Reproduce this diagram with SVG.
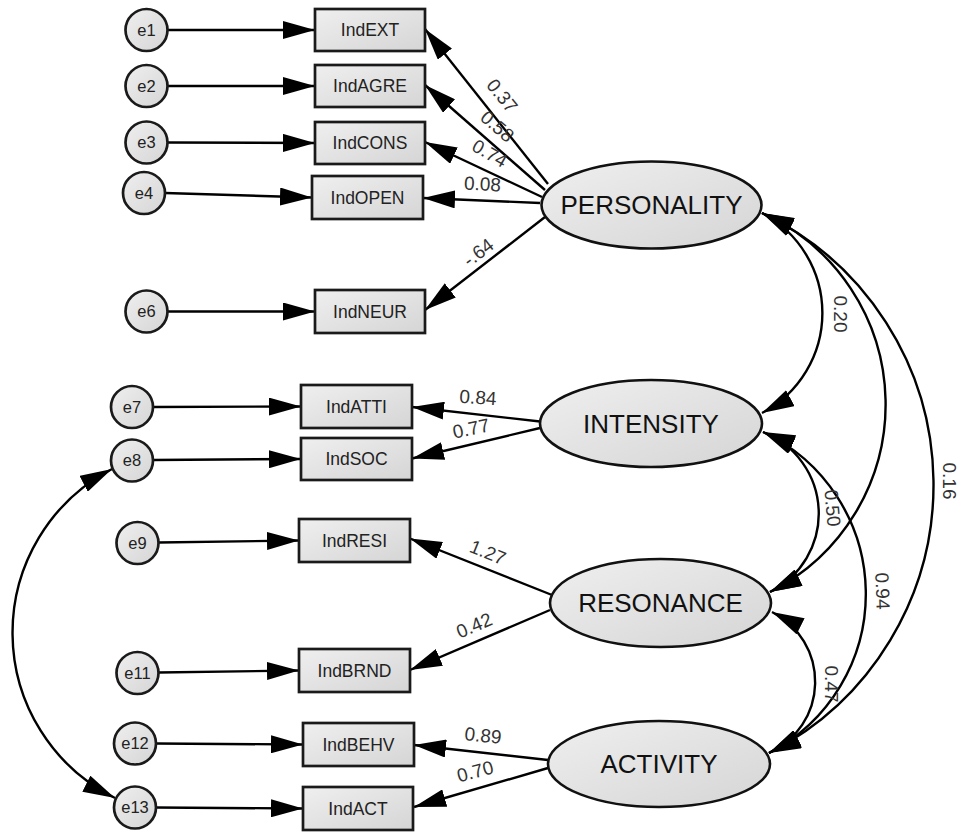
<svg xmlns="http://www.w3.org/2000/svg" width="961" height="833" viewBox="0 0 961 833">
<defs>
<linearGradient id="gf" x1="0" y1="0" x2="1" y2="1">
<stop offset="0" stop-color="#efefef"/>
<stop offset="1" stop-color="#d5d5d5"/>
</linearGradient>
<marker id="ah" markerUnits="userSpaceOnUse" viewBox="0 0 32 18" markerWidth="32" markerHeight="18" refX="32" refY="9" orient="auto-start-reverse">
<path d="M0,0 L32,9 L0,18 Z" fill="#000"/>
</marker>
<style>
.box{fill:url(#gf);stroke:#1a1a1a;stroke-width:2.7}
.err{fill:url(#gf);stroke:#1a1a1a;stroke-width:2.7}
.lat{fill:url(#gf);stroke:#111;stroke-width:2.6}
.t{font-family:"Liberation Sans",Arial,sans-serif;fill:#222;text-anchor:middle}
.bt{font-size:17.5px}
.et{font-size:16.5px}
.lt{font-size:26px;fill:#111}
.pl{font-family:"Liberation Sans",Arial,sans-serif;font-size:19px;fill:#333;text-anchor:middle}
.c{fill:none;stroke:#000;stroke-width:2.4;marker-end:url(#ah)}
.d{fill:none;stroke:#000;stroke-width:2.4;marker-start:url(#ah);marker-end:url(#ah)}
</style>
</defs>
<rect width="961" height="833" fill="#fff"/>

<g id="connectors">
<path class="c" d="M167.5,30 L315,30"/>
<path class="c" d="M167.5,86 L315,86"/>
<path class="c" d="M167.5,142.5 L315,143"/>
<path class="c" d="M165,193 L312,197.5"/>
<path class="c" d="M167.5,311.5 L315,311.5"/>
<path class="c" d="M153,407 L301,406.5"/>
<path class="c" d="M153,460 L301,459"/>
<path class="c" d="M158.5,542.5 L299,540.5"/>
<path class="c" d="M158.5,672.5 L299,670.5"/>
<path class="c" d="M156,743.5 L303,744.5"/>
<path class="c" d="M156,807.5 L303,808.5"/>

<path class="c" d="M548,184 L425,29"/>
<path class="c" d="M545,190 L425,85"/>
<path class="c" d="M542,197 L425,142"/>
<path class="c" d="M540,203 L423,198"/>
<path class="c" d="M545,217 L425,310"/>
<path class="c" d="M540,421.5 L412,407"/>
<path class="c" d="M540,428 L412,458.5"/>
<path class="c" d="M552,595 L410,538.5"/>
<path class="c" d="M550,610 L410,670"/>
<path class="c" d="M548,760 L414,745"/>
<path class="c" d="M548,768 L414,807"/>

<path class="d" d="M762,213 A113,113 0 0 1 762,413"/>
<path class="d" d="M762,213 A210,210 0 0 1 770,592"/>
<path class="d" d="M762,213 A301,301 0 0 1 769,753"/>
<path class="d" d="M763,432 A87.5,87.5 0 0 1 770,592"/>
<path class="d" d="M763,432 A179,179 0 0 1 769,753"/>
<path class="d" d="M772,612 A78,78 0 0 1 769,753"/>
<path class="d" d="M112,469 A184.5,184.5 0 0 0 115,798"/>

<text class="pl" transform="translate(502.5,95.5) rotate(51)" y="7">0.37</text>
<text class="pl" transform="translate(497.5,126) rotate(41)" y="7">0.58</text>
<text class="pl" transform="translate(490,153) rotate(30)" y="7">0.74</text>
<text class="pl" transform="translate(482.5,183.5) rotate(3)" y="7">0.08</text>
<text class="pl" transform="translate(478,252) rotate(-37)" y="7">-.64</text>
<text class="pl" transform="translate(478,397) rotate(4)" y="7">0.84</text>
<text class="pl" transform="translate(471,428) rotate(-12)" y="7">0.77</text>
<text class="pl" transform="translate(488,552) rotate(22)" y="7">1.27</text>
<text class="pl" transform="translate(474,625) rotate(-23)" y="7">0.42</text>
<text class="pl" transform="translate(483,735) rotate(6)" y="7">0.89</text>
<text class="pl" transform="translate(475,771) rotate(-15)" y="7">0.70</text>
<text class="pl" transform="translate(840.5,314) rotate(90)" y="7">0.20</text>
<text class="pl" transform="translate(833,508) rotate(85)" y="7">0.50</text>
<text class="pl" transform="translate(883,591) rotate(88)" y="7">0.94</text>
<text class="pl" transform="translate(950,481) rotate(90)" y="7">0.16</text>
<text class="pl" transform="translate(832,684) rotate(90)" y="7">0.47</text>
</g>

<g id="e1"><circle class="err" cx="146.5" cy="30" r="21"/><text class="t et" x="146.5" y="35.9">e1</text></g>
<g id="e2"><circle class="err" cx="146.5" cy="86" r="21"/><text class="t et" x="146.5" y="91.9">e2</text></g>
<g id="e3"><circle class="err" cx="146.5" cy="142.5" r="21"/><text class="t et" x="146.5" y="148.4">e3</text></g>
<g id="e4"><circle class="err" cx="144" cy="193" r="21"/><text class="t et" x="144" y="198.9">e4</text></g>
<g id="e6"><circle class="err" cx="146.5" cy="311.5" r="21"/><text class="t et" x="146.5" y="317.4">e6</text></g>
<g id="e7"><circle class="err" cx="132" cy="407" r="21"/><text class="t et" x="132" y="412.9">e7</text></g>
<g id="e8"><circle class="err" cx="132" cy="460.5" r="21"/><text class="t et" x="132" y="466.4">e8</text></g>
<g id="e9"><circle class="err" cx="137.5" cy="543" r="21"/><text class="t et" x="137.5" y="548.9">e9</text></g>
<g id="e11"><circle class="err" cx="137.5" cy="673" r="21"/><text class="t et" x="137.5" y="678.9">e11</text></g>
<g id="e12"><circle class="err" cx="135" cy="743.5" r="21"/><text class="t et" x="135" y="749.4">e12</text></g>
<g id="e13"><circle class="err" cx="135" cy="807.5" r="21"/><text class="t et" x="135" y="813.4">e13</text></g>

<g id="IndEXT"><rect class="box" x="315" y="9" width="110" height="42"/><text class="t bt" x="370" y="36.2">IndEXT</text></g>
<g id="IndAGRE"><rect class="box" x="315" y="65" width="110" height="42"/><text class="t bt" x="370" y="92.2">IndAGRE</text></g>
<g id="IndCONS"><rect class="box" x="315" y="122" width="110" height="42"/><text class="t bt" x="370" y="149.2">IndCONS</text></g>
<g id="IndOPEN"><rect class="box" x="312" y="176" width="111" height="43"/><text class="t bt" x="367.5" y="203.7">IndOPEN</text></g>
<g id="IndNEUR"><rect class="box" x="315" y="290" width="110" height="43"/><text class="t bt" x="370" y="317.7">IndNEUR</text></g>
<g id="IndATTI"><rect class="box" x="301" y="385" width="111" height="43"/><text class="t bt" x="356.5" y="412.7">IndATTI</text></g>
<g id="IndSOC"><rect class="box" x="301" y="438" width="111" height="42"/><text class="t bt" x="356.5" y="465.2">IndSOC</text></g>
<g id="IndRESI"><rect class="box" x="299" y="519" width="111" height="43"/><text class="t bt" x="354.5" y="546.7">IndRESI</text></g>
<g id="IndBRND"><rect class="box" x="299" y="649" width="111" height="43"/><text class="t bt" x="354.5" y="676.7">IndBRND</text></g>
<g id="IndBEHV"><rect class="box" x="303" y="723" width="111" height="43"/><text class="t bt" x="358.5" y="750.7">IndBEHV</text></g>
<g id="IndACT"><rect class="box" x="303" y="787" width="110" height="43"/><text class="t bt" x="358" y="814.7">IndACT</text></g>

<g id="PERSONALITY"><ellipse class="lat" cx="651.5" cy="205" rx="110" ry="43.5"/><text class="t lt" x="651.5" y="214.3">PERSONALITY</text></g>
<g id="INTENSITY"><ellipse class="lat" cx="651" cy="423.5" rx="111" ry="43.5"/><text class="t lt" x="651" y="432.8">INTENSITY</text></g>
<g id="RESONANCE"><ellipse class="lat" cx="660.5" cy="603" rx="110.5" ry="44"/><text class="t lt" x="660.5" y="612.3">RESONANCE</text></g>
<g id="ACTIVITY"><ellipse class="lat" cx="659" cy="764" rx="111" ry="43"/><text class="t lt" x="659" y="773.3">ACTIVITY</text></g>
</svg>
